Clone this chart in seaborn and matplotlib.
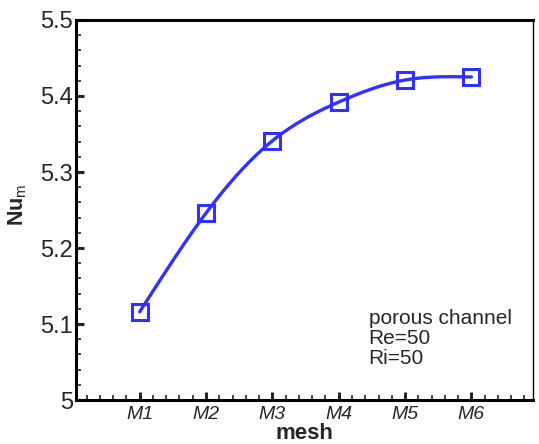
import numpy as np
import pandas as pd
import matplotlib
matplotlib.use("Agg")
import matplotlib.pyplot as plt
import seaborn as sns
from matplotlib.ticker import MultipleLocator

# ---- data ----
meshes = ["M1", "M2", "M3", "M4", "M5", "M6"]
nu_m = [5.116, 5.246, 5.341, 5.392, 5.421, 5.425]
y_ticks = [5.0, 5.1, 5.2, 5.3, 5.4, 5.5]
y_tick_labels = ["5", "5.1", "5.2", "5.3", "5.4", "5.5"]
note_lines = ["porous channel", "Re=50", "Ri=50"]

sns.set_style("white")
plt.rcParams["font.family"] = ["Liberation Sans", "DejaVu Sans"]
plt.rcParams["mathtext.fontset"] = "custom"
plt.rcParams["mathtext.rm"] = "Liberation Sans"
plt.rcParams["mathtext.bf"] = "Liberation Sans:bold"

pos = np.arange(1, len(meshes) + 1, dtype=float)
vals = np.array(nu_m)


def natural_spline(x, y, xn):
    n = len(x)
    h = np.diff(x)
    A = np.zeros((n, n))
    b = np.zeros(n)
    A[0, 0] = A[-1, -1] = 1
    for i in range(1, n - 1):
        A[i, i - 1] = h[i - 1]
        A[i, i] = 2 * (h[i - 1] + h[i])
        A[i, i + 1] = h[i]
        b[i] = 3 * ((y[i + 1] - y[i]) / h[i] - (y[i] - y[i - 1]) / h[i - 1])
    c = np.linalg.solve(A, b)
    out = np.empty_like(xn)
    for k, xv in enumerate(xn):
        i = min(max(np.searchsorted(x, xv) - 1, 0), n - 2)
        dx = xv - x[i]
        bi = (y[i + 1] - y[i]) / h[i] - h[i] * (2 * c[i] + c[i + 1]) / 3
        di = (c[i + 1] - c[i]) / (3 * h[i])
        out[k] = y[i] + bi * dx + c[i] * dx ** 2 + di * dx ** 3
    return out


xd = np.linspace(pos[0], pos[-1], 300)
yd = natural_spline(pos, vals, xd)
curve = pd.DataFrame({"x": xd, "y": yd})

color = "#3030ff"
fig = plt.figure(figsize=(5.39, 4.44), dpi=100)
ax = fig.add_axes([0.141, 0.099, 0.848, 0.856])

sns.lineplot(data=curve, x="x", y="y", ax=ax, color=color, linewidth=2.4, sort=False)
ax.plot(pos, vals, linestyle="none", marker="s", markersize=11.5, mfc="none",
        mec=color, mew=2.2)

ax.set_xlim(0.04, 6.93)
ax.set_ylim(5.0, 5.5)
ax.set_xticks(pos)
ax.set_xticklabels(meshes, fontsize=14, style="italic")
ax.xaxis.set_minor_locator(MultipleLocator(0.2))
ax.set_yticks(y_ticks)
ax.set_yticklabels(y_tick_labels, fontsize=17)
ax.yaxis.set_minor_locator(MultipleLocator(0.02))
ax.tick_params(which="major", direction="in", length=6, width=2.2,
               left=True, bottom=True, top=False, right=False, pad=2)
ax.tick_params(which="minor", direction="in", length=3.5, width=1.2,
               left=True, bottom=True, top=False, right=False)
ax.tick_params(axis="x", pad=4)

for s in ["left", "bottom", "top"]:
    ax.spines[s].set_linewidth(2.2)
    ax.spines[s].set_color("black")
ax.spines["right"].set_linewidth(1.0)
ax.spines["right"].set_color("black")

ax.set_xlabel("mesh", fontsize=16, fontweight="bold")
ax.xaxis.set_label_coords(0.5, -0.102)
ax.xaxis.label.set_va("baseline")
ax.set_ylabel(r"$\mathbf{Nu}_{\mathrm{m}}$", fontsize=15.5)
ax.yaxis.set_label_coords(-0.128, 0.513)
ax.yaxis.label.set_va("center")

ax.text(0.64, 0.24, "\n".join(note_lines), transform=ax.transAxes,
        fontsize=15, va="top", ha="left", linespacing=1.08)

fig.savefig("out.png", dpi=100)
